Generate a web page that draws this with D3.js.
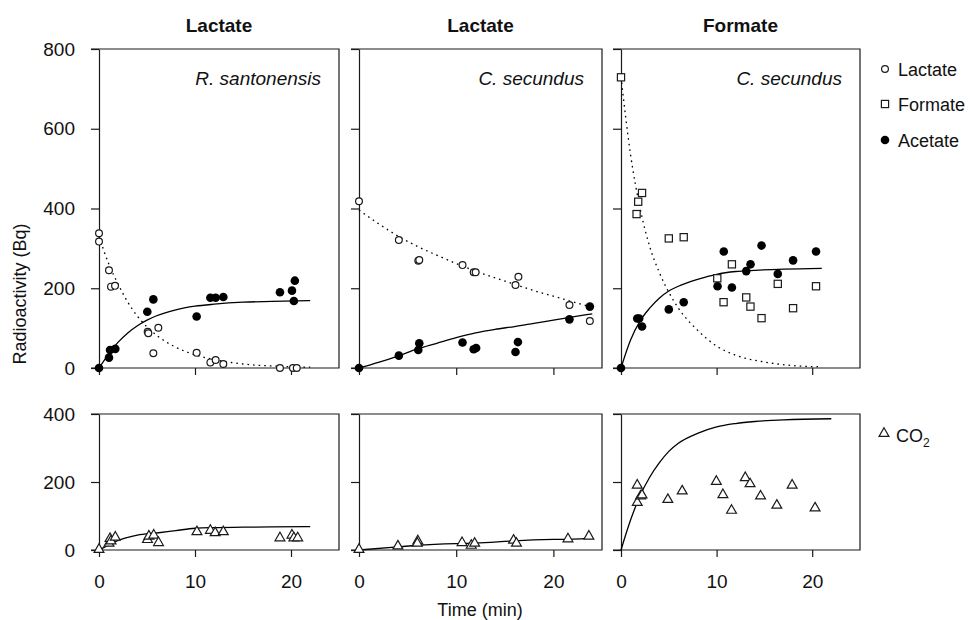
<!DOCTYPE html>
<html lang="en">
<head>
<meta charset="UTF-8">
<title>Radioactivity time course</title>
<script src="https://d3js.org/d3.v7.min.js"></script>
<style>
  body { margin: 0; background: #fff; }
  svg text { font-family: "Liberation Sans", Arial, sans-serif; fill: #111; }
</style>
</head>
<body>
<svg id="main" width="972" height="620"></svg>
<script>
// ---- data: [time (min), radioactivity (Bq)] ----
const columnTitles = ['Lactate', 'Lactate', 'Formate'];
const organisms = ['R. santonensis', 'C. secundus', 'C. secundus'];
const xTicks = [0, 10, 20];
const yTicksTop = [0, 200, 400, 600, 800];
const yTicksBottom = [0, 200, 400];

// R. santonensis on lactate
const rsLactate = [[0,338],[0,317],[1.04,245],[1.25,204],[1.67,206],[5.07,91],[5.14,87],[6.18,101],[5.66,37],[10.17,38],[11.6,14],[12.15,20],[12.95,10],[18.85,0],[20.2,0],[20.6,0]];
const rsAcetate = [[0,0],[1.04,26],[1.15,45],[1.7,48],[5.03,141],[5.66,172],[10.17,129],[11.6,176],[12.15,176],[12.95,178],[18.85,190],[20.1,194],[20.4,219],[20.3,168]];
const rsCO2 = [[0,0],[1.04,18],[1.15,32],[1.25,25],[1.7,36],[5.05,29],[5.2,39],[5.7,42],[6.2,20],[10.2,52],[11.6,56],[12.1,49],[12.95,52],[18.85,34],[20.1,42],[20.3,34],[20.7,34]];
const rsLactateFit = [[0,330],[1,262],[2,210],[3,165],[4,130],[5,103],[6,82],[8,52],[10,33],[12,21],[15,10],[18,5],[22,2]];
const rsAcetateFit = [[0,0],[1,35],[2,65],[3,88],[4,106],[5,120],[6,131],[8,146],[10,155],[12,160],[15,165],[18,167],[22,169]];
const rsCO2Fit = [[0,0],[1,14],[2,28],[3,37],[4,44],[6,50],[8,57],[10,64],[12,66],[15,67],[18,68],[22,69]];

// C. secundus on lactate
const csLactate = [[0,418],[4.1,321],[6.1,269],[6.2,271],[10.65,258],[11.8,240],[12.0,240],[16.1,208],[16.4,229],[21.65,158],[23.75,118]];
const csAcetate = [[0,0],[4.1,31],[6.1,45],[6.2,62],[10.65,64],[11.8,47],[12.05,50],[16.1,40],[16.35,65],[21.65,122],[23.75,154]];
const csCO2 = [[0,0],[4.0,10],[6.05,25],[6.0,18],[10.6,20],[11.55,12],[11.9,18],[15.9,27],[16.2,18],[21.5,31],[23.65,39]];
const csLactateFit = [[0,396],[2,362],[4,331],[6,305],[8,283],[10,262],[12,243],[14,226],[16,210],[18,194],[20,180],[22,166],[24,152]];
const csAcetateFit = [[0,0],[2,14],[4,30],[6,48],[8,62],[10,76],[12,88],[14,97],[16,104],[18,112],[20,120],[22,128],[24,136]];
const csCO2Fit = [[0,0],[4,9],[6,14],[10,19],[12,20],[16,27],[20,31],[22,32],[24,35]];

// C. secundus on formate
const cfFormate = [[0,729],[1.63,386],[1.8,417],[2.2,439],[5.0,325],[6.56,328],[10.07,225],[10.73,165],[11.6,260],[13.1,177],[13.54,154],[14.7,125],[16.4,211],[18.0,150],[20.4,205]];
const cfAcetate = [[0,0],[1.7,124],[1.9,124],[2.2,104],[5.0,147],[6.56,165],[10.1,205],[10.75,292],[11.6,202],[13.1,243],[13.55,260],[14.7,307],[16.4,236],[18.0,270],[20.4,292]];
const cfCO2 = [[1.7,138],[1.7,189],[2.05,157],[2.2,160],[4.9,147],[6.4,172],[9.97,200],[10.66,161],[11.56,115],[13.0,211],[13.5,193],[14.6,157],[16.3,130],[17.9,189],[20.3,122]];
const cfFormateFit = [[0,730],[1,535],[2,400],[3,305],[4,240],[5,190],[6,150],[8,95],[10,55],[12,32],[15,15],[18,6],[21,3]];
const cfAcetateFit = [[0,0],[1,70],[2,118],[3,150],[4,175],[5,193],[6,205],[8,222],[10,235],[12,242],[14,245],[17,248],[21,250]];
const cfCO2Fit = [[0,0],[1,88],[2,160],[3,214],[4,256],[5,290],[6,314],[8,343],[10,362],[12,372],[14,378],[17,383],[22,386]];

// ---- layout ----
let svg = d3.select('#main');
const cols = [{x0: 99, x1: 339}, {x0: 359, x1: 602}, {x0: 621, x1: 860}];
const rows = [{y0: 49, y1: 368, max: 800, ticks: yTicksTop}, {y0: 414, y1: 550, max: 400, ticks: yTicksBottom}];
const ink = '#1a1a1a';

const panels = [
  {col: 0, row: 0, points: [[rsLactate, 'circle'], [rsAcetate, 'dot']], fits: [[rsLactateFit, true], [rsAcetateFit, false]]},
  {col: 1, row: 0, points: [[csLactate, 'circle'], [csAcetate, 'dot']], fits: [[csLactateFit, true], [csAcetateFit, false]]},
  {col: 2, row: 0, points: [[cfFormate, 'square'], [cfAcetate, 'dot']], fits: [[cfFormateFit, true], [cfAcetateFit, false]]},
  {col: 0, row: 1, points: [[rsCO2, 'triangle']], fits: [[rsCO2Fit, false]]},
  {col: 1, row: 1, points: [[csCO2, 'triangle']], fits: [[csCO2Fit, false]]},
  {col: 2, row: 1, points: [[cfCO2, 'triangle']], fits: [[cfCO2Fit, false]]}
];

function drawMarker(g, kind, x, y) {
  if (kind === 'circle') {
    g.append('circle').attr('cx', x).attr('cy', y).attr('r', 3.4)
      .attr('fill', '#fff').attr('stroke', ink).attr('stroke-width', 1.2);
  } else if (kind === 'dot') {
    g.append('circle').attr('cx', x).attr('cy', y).attr('r', 4.3).attr('fill', '#000');
  } else if (kind === 'square') {
    g.append('rect').attr('x', x - 3.6).attr('y', y - 3.6).attr('width', 7.2).attr('height', 7.2)
      .attr('fill', '#fff').attr('stroke', ink).attr('stroke-width', 1.2);
  } else {
    g.append('path').attr('d', d3.symbol(d3.symbolTriangle, 42)())
      .attr('transform', 'translate(' + x + ',' + (y - 0.5) + ')')
      .attr('fill', '#fff').attr('stroke', ink).attr('stroke-width', 1.2);
  }
}

panels.forEach(function(p) {
  let c = cols[p.col], r = rows[p.row];
  let xScale = d3.scaleLinear().domain([0, 25]).range([c.x0, c.x1]);
  let yScale = d3.scaleLinear().domain([0, r.max]).range([r.y1, r.y0]);
  let g = svg.append('g');

  // frame: top, right and bottom lines start at the tick ends
  g.append('path')
    .attr('d', 'M' + (c.x0 - 8) + ',' + r.y0 + 'H' + c.x1 + 'V' + r.y1 + 'H' + (c.x0 - 8))
    .attr('fill', 'none').attr('stroke', ink).attr('stroke-width', 1.2);

  let yAxis = d3.axisLeft(yScale).tickValues(r.ticks).tickSize(8).tickSizeOuter(0).tickPadding(16);
  if (p.col > 0) yAxis.tickFormat('');
  let ya = g.append('g').attr('transform', 'translate(' + c.x0 + ',0)').call(yAxis);
  ya.selectAll('path, line').attr('stroke', ink).attr('stroke-width', 1.2);
  ya.selectAll('text').style('font-size', '19px').attr('fill', '#111');

  let xAxis = d3.axisBottom(xScale).tickValues(xTicks).tickSize(7).tickSizeOuter(0).tickPadding(18);
  if (p.row === 0) xAxis.tickFormat('');
  let xa = g.append('g').attr('transform', 'translate(0,' + r.y1 + ')').call(xAxis);
  xa.select('.domain').remove();
  xa.selectAll('line').attr('stroke', ink).attr('stroke-width', 1.2);
  xa.selectAll('text').style('font-size', '19px').attr('fill', '#111');

  let line = d3.line().x(function(d){return xScale(d[0]);}).y(function(d){return yScale(d[1]);})
    .curve(d3.curveMonotoneX);
  p.fits.forEach(function(f) {
    g.append('path').datum(f[0]).attr('d', line)
      .attr('fill', 'none').attr('stroke', '#000').attr('stroke-width', 1.3)
      .attr('stroke-dasharray', f[1] ? '1.6,4' : null);
  });

  p.points.forEach(function(s) {
    s[0].forEach(function(d) { drawMarker(g, s[1], xScale(d[0]), yScale(d[1])); });
  });

  if (p.row === 0) {
    svg.append('text').attr('x', (c.x0 + c.x1) / 2).attr('y', 32).attr('text-anchor', 'middle')
      .style('font-size', '19px').style('font-weight', 'bold').text(columnTitles[p.col]);
    svg.append('text').attr('x', c.x1 - 18).attr('y', 85).attr('text-anchor', 'end')
      .style('font-size', '19px').style('font-style', 'italic').text(organisms[p.col]);
  }
});

// axis titles
svg.append('text').attr('transform', 'translate(26,294) rotate(-90)').attr('text-anchor', 'middle')
  .style('font-size', '18px').text('Radioactivity (Bq)');
svg.append('text').attr('x', 480).attr('y', 616).attr('text-anchor', 'middle')
  .style('font-size', '18px').text('Time (min)');

// legend
let legend = svg.append('g');
const legendItems = [['Lactate', 'circle', 69], ['Formate', 'square', 104], ['Acetate', 'dot', 140]];
legendItems.forEach(function(d) {
  drawMarker(legend, d[1], 885, d[2]);
  legend.append('text').attr('x', 898).attr('y', d[2] + 7).style('font-size', '18px').text(d[0]);
});
drawMarker(legend, 'triangle', 884, 434);
let co2 = legend.append('text').attr('x', 896).attr('y', 442).style('font-size', '18px');
co2.append('tspan').text('CO');
co2.append('tspan').attr('dy', 5).style('font-size', '12px').text('2');
</script>
</body>
</html>
